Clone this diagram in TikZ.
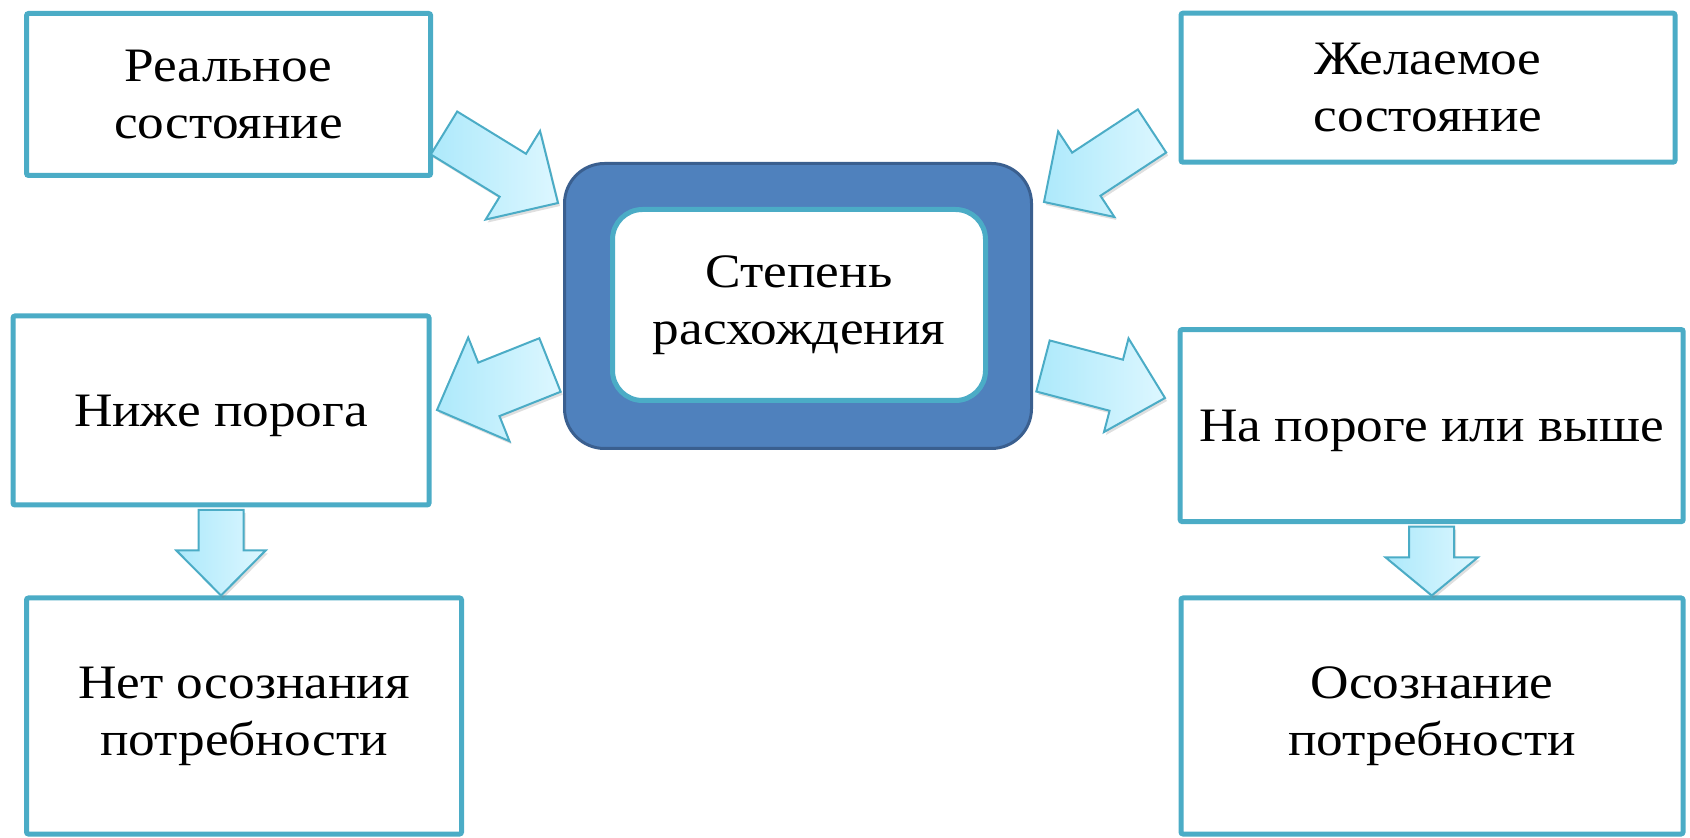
\documentclass[tikz,border=0pt]{standalone}
\usepackage{fontspec}
\setmainfont{Liberation Serif}[FakeStretch=1.11]
\usetikzlibrary{calc,shadows}

\definecolor{aqua}{HTML}{4BACC6}
\definecolor{coreblue}{HTML}{4F81BD}
\definecolor{coreedge}{HTML}{3A5F8F}
\definecolor{arrowdark}{HTML}{ADE9FB}
\definecolor{arrowlight}{HTML}{DDF7FF}

% block arrow: name, tail, tip, shaft half width, head half width, head length
\newcommand\blockarrow[6]{%
  \coordinate (#1-b) at ($(#3)!#6!(#2)$);
  \draw[blockarr] ($(#2)!#4!90:(#3)$) -- ($(#1-b)!#4!90:(#3)$) -- ($(#1-b)!#5!90:(#3)$) -- (#3)
    -- ($(#1-b)!#5!-90:(#3)$) -- ($(#1-b)!#4!-90:(#3)$) -- ($(#2)!#4!-90:(#3)$) -- cycle;
}

\begin{document}
\begin{tikzpicture}[
  x=0.5pt, y=-0.5pt,
  box/.style={draw=aqua, fill=white, line width=2.5pt, rounded corners=1pt, align=center,
    inner sep=0pt, font=\fontsize{24pt}{28.5pt}\selectfont,
    execute at begin node=\rule{0pt}{21.5pt}},
  core/.style={draw=coreedge, fill=coreblue, line width=1.5pt, rounded corners=20pt},
  gap/.style={draw=aqua, fill=white, line width=2.5pt, rounded corners=15pt, align=center,
    inner sep=0pt, font=\fontsize{24pt}{28.5pt}\selectfont,
    execute at begin node=\rule{0pt}{21.5pt}},
  blockarr/.style={draw=aqua, line width=1pt, left color=arrowdark, right color=arrowlight,
    drop shadow={opacity=.25, shadow xshift=1pt, shadow yshift=-1.5pt}}
]
\useasboundingbox (0,0) rectangle (1690,838);

% States
\node[box, minimum width=202pt, minimum height=81pt] (real) at (228.6,94.5) {Реальное\\состояние};
\node[box, minimum width=247pt, minimum height=74.5pt] (desired) at (1428,87.7) {Желаемое\\состояние};

% Discrepancy
\node[core, minimum width=233.5pt, minimum height=142.5pt] (outer) at (798,306) {};
\node[gap, minimum width=186.5pt, minimum height=95.5pt] (degree) at (799,305) {Степень\\расхождения};

% Thresholds
\node[box, minimum width=208pt, minimum height=94.5pt] (below) at (221,410.5) {Ниже порога};
\node[box, minimum width=251.5pt, minimum height=96pt] (atthr) at (1431.7,425.6) {На пороге или выше};

% Awareness
\node[box, minimum width=217.5pt, minimum height=118pt] (noaware) at (244,716) {Нет осознания\\потребности};
\node[box, minimum width=251pt, minimum height=118pt] (aware) at (1432,716) {Осознание\\потребности};

% Arrows
\coordinate (a1t) at (444,133);  \coordinate (a1h) at (558,203);
\coordinate (a2t) at (1152,131); \coordinate (a2h) at (1044,202);
\coordinate (a3t) at (550,365);  \coordinate (a3h) at (437,410);
\coordinate (a4t) at (1043,366); \coordinate (a4h) at (1165,398);
\coordinate (a5t) at ($(below.south)+(0,2.5)$); \coordinate (a5h) at (below.south |- noaware.north);
\coordinate (a6t) at ($(atthr.south)+(0,2.5)$); \coordinate (a6h) at (atthr.south |- aware.north);

\blockarrow{a1}{a1t}{a1h}{12.6pt}{26pt}{26.5pt}
\blockarrow{a2}{a2t}{a2h}{12.9pt}{25.6pt}{25.3pt}
\blockarrow{a3}{a3t}{a3h}{14.4pt}{27.9pt}{27.9pt}
\blockarrow{a4}{a4t}{a4h}{13.2pt}{24.2pt}{25.2pt}
\blockarrow{a5}{a5t}{a5h}{11.25pt}{22.3pt}{22.5pt}
\blockarrow{a6}{a6t}{a6h}{11.25pt}{23pt}{19pt}

\end{tikzpicture}
\end{document}
